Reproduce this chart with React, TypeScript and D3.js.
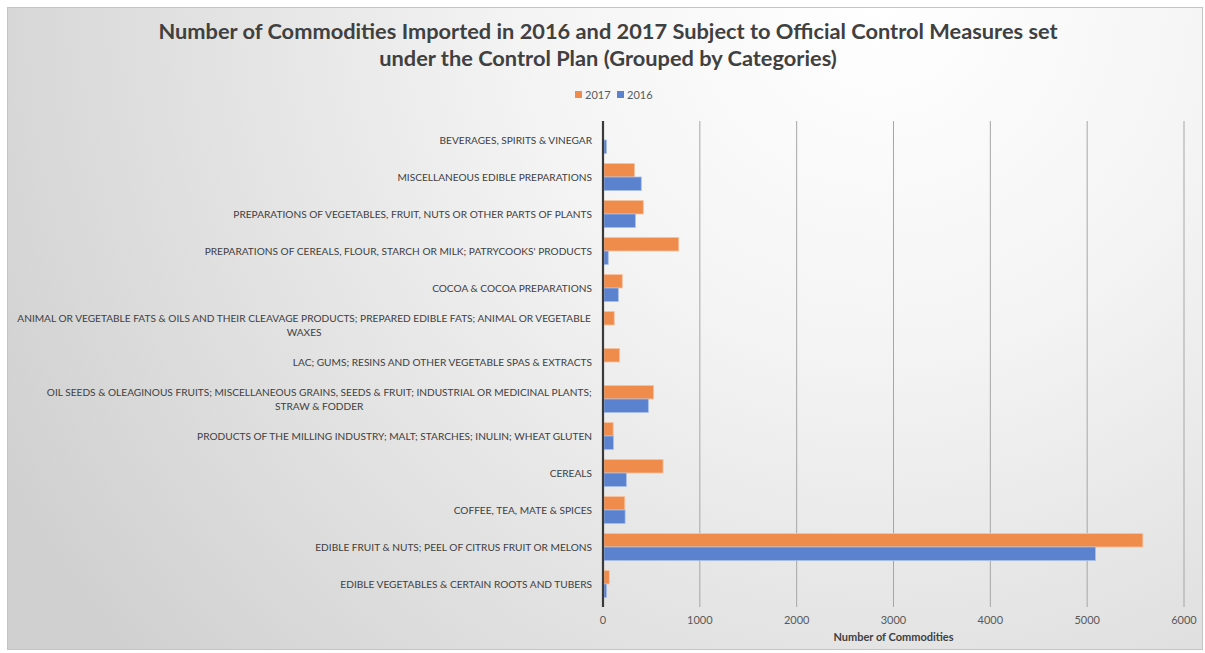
import React from "react";
import * as d3 from "d3";

const categories: string[][] = [
  ["BEVERAGES, SPIRITS & VINEGAR"],
  ["MISCELLANEOUS EDIBLE PREPARATIONS"],
  ["PREPARATIONS OF VEGETABLES, FRUIT, NUTS OR OTHER PARTS OF PLANTS"],
  ["PREPARATIONS OF CEREALS, FLOUR, STARCH OR MILK; PATRYCOOKS' PRODUCTS"],
  ["COCOA & COCOA PREPARATIONS"],
  ["ANIMAL OR VEGETABLE FATS & OILS AND THEIR CLEAVAGE PRODUCTS; PREPARED EDIBLE FATS; ANIMAL OR VEGETABLE", "WAXES"],
  ["LAC; GUMS; RESINS AND OTHER VEGETABLE SPAS & EXTRACTS"],
  ["OIL SEEDS & OLEAGINOUS FRUITS; MISCELLANEOUS GRAINS, SEEDS & FRUIT; INDUSTRIAL OR MEDICINAL PLANTS;", "STRAW & FODDER"],
  ["PRODUCTS OF THE MILLING INDUSTRY; MALT; STARCHES; INULIN; WHEAT GLUTEN"],
  ["CEREALS"],
  ["COFFEE, TEA, MATE & SPICES"],
  ["EDIBLE FRUIT & NUTS; PEEL  OF CITRUS FRUIT OR MELONS"],
  ["EDIBLE VEGETABLES & CERTAIN ROOTS AND TUBERS"],
];

const values2017: number[] = [0, 316, 406, 772, 189, 106, 162, 513, 95, 610, 215, 5565, 55];
const values2016: number[] = [25, 385, 324, 44, 148, 0, 0, 458, 98, 231, 218, 5076, 27];

const seriesNames: string[] = ["2017", "2016"];
const xTicks: number[] = [0, 1000, 2000, 3000, 4000, 5000, 6000];

const titleLines: string[] = [
  "Number of Commodities Imported in 2016 and 2017 Subject to Official Control Measures set",
  "under the Control Plan (Grouped by Categories)",
];
const xAxisTitle = "Number of Commodities";

const W = 1205;
const H = 653;
const FONT = "Lato, 'Open Sans', sans-serif";
const LABEL_FS = 10.15;
const fills: Record<string, string> = { "2017": "#EF8B4B", "2016": "#5A82CE" };
const strokes: Record<string, string> = { "2017": "#F7C4A2", "2016": "#A9BFE8" };

let measureCtx: CanvasRenderingContext2D | null = null;
function measure(text: string, fs: number): number {
  if (!measureCtx && typeof document !== "undefined") {
    measureCtx = document.createElement("canvas").getContext("2d");
  }
  if (!measureCtx) return text.length * fs * 0.553;
  measureCtx.font = `${fs}px Lato, 'Open Sans', sans-serif`;
  return measureCtx.measureText(text).width;
}

export default function App() {
  const keys = categories.map((c) => c.join(" "));
  const x = d3.scaleLinear().domain([0, 6000]).range([603, 1184]);
  const y = d3
    .scaleBand<string>()
    .domain(keys)
    .range([121.5, 602.5])
    .paddingInner(0.27)
    .paddingOuter(0.135);
  const ySub = d3.scaleBand<string>().domain(seriesNames).range([0, y.bandwidth()]);
  const seriesValues: Record<string, number[]> = { "2017": values2017, "2016": values2016 };

  const plotTop = 121;
  const plotBottom = 603;
  const labelRight = 592;

  return (
    <svg
      width={W}
      height={H}
      style={{ position: "absolute", left: 0, top: 0, display: "block" }}
      fontFamily={FONT}
    >
      <defs>
        <radialGradient id="bg" gradientUnits="userSpaceOnUse" cx={880} cy={0} r={1000}>
          <stop offset="0" stopColor="#ffffff" />
          <stop offset="0.35" stopColor="#f4f4f4" />
          <stop offset="1" stopColor="#d0d0d0" />
        </radialGradient>
      </defs>
      <rect x={0} y={0} width={W} height={H} fill="#ffffff" />
      <rect x={7.5} y={7.5} width={1195} height={642} fill="url(#bg)" stroke="#c4c4c4" strokeWidth={1} />

      {/* title */}
      {titleLines.map((t, i) => (
        <text
          key={i}
          x={608}
          y={39 + i * 27}
          textAnchor="middle"
          fontSize={21.8}
          fontWeight="bold"
          fill="#404040"
        >
          {t}
        </text>
      ))}

      {/* legend */}
      {seriesNames.map((s, i) => {
        const lx = 575 + i * 42;
        return (
          <g key={s}>
            <rect x={lx} y={91} width={7} height={7} fill={fills[s]} />
            <text x={lx + 10} y={98.5} fontSize={11} fill="#595959">
              {s}
            </text>
          </g>
        );
      })}

      {/* gridlines */}
      {xTicks.slice(1).map((t) => (
        <line key={t} x1={x(t)} x2={x(t)} y1={plotTop} y2={plotBottom + 4} stroke="#a6a6a6" strokeWidth={1} />
      ))}

      {/* bars */}
      {keys.map((k, i) =>
        seriesNames.map((s) => {
          const v = seriesValues[s][i];
          if (v <= 0) return null;
          return (
            <rect
              key={k + s}
              x={x(0) + 1}
              y={(y(k) as number) + (ySub(s) as number)}
              width={x(v) - x(0)}
              height={ySub.bandwidth()}
              fill={fills[s]}
              stroke={strokes[s]}
              strokeWidth={0.8}
            />
          );
        })
      )}

      {/* zero axis */}
      <line x1={x(0)} x2={x(0)} y1={plotTop} y2={plotBottom + 4} stroke="#3a3a3a" strokeWidth={2.2} />

      {/* category labels: single lines right-aligned, wrapped labels centered as a block */}
      {categories.map((lines, i) => {
        const cy = (y(keys[i]) as number) + y.bandwidth() / 2;
        const lh = 14;
        const startY = cy - ((lines.length - 1) * lh) / 2 + 4;
        if (lines.length === 1) {
          return (
            <text key={i} x={labelRight} y={startY} textAnchor="end" fontSize={LABEL_FS} fill="#404040">
              {lines[0]}
            </text>
          );
        }
        const blockW = Math.max(...lines.map((l) => measure(l, LABEL_FS)));
        const cx = labelRight - blockW / 2;
        return (
          <text key={i} y={startY} textAnchor="middle" fontSize={LABEL_FS} fill="#404040">
            {lines.map((l, j) => (
              <tspan key={j} x={cx} dy={j === 0 ? 0 : lh}>
                {l}
              </tspan>
            ))}
          </text>
        );
      })}

      {/* x tick labels */}
      {xTicks.map((t) => (
        <text key={t} x={x(t)} y={624} textAnchor="middle" fontSize={11} fill="#595959">
          {t}
        </text>
      ))}

      <text x={(x(0) + x(6000)) / 2} y={641} textAnchor="middle" fontSize={11} fontWeight="bold" fill="#404040">
        {xAxisTitle}
      </text>
    </svg>
  );
}
